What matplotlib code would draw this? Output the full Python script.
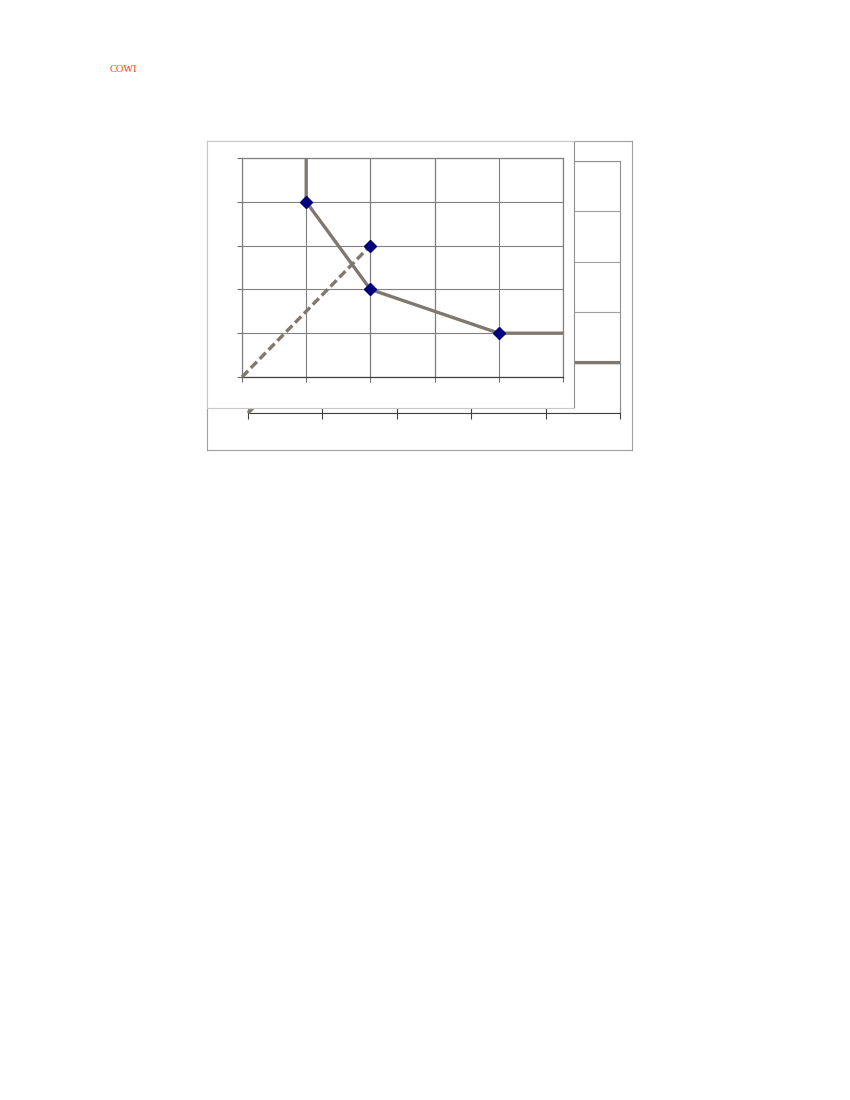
import matplotlib
matplotlib.use("Agg")
import matplotlib.pyplot as plt

# -------------------------------------------------
# Data
# -------------------------------------------------
solid_x = [1, 1, 2, 4, 5]
solid_y = [5, 4, 2, 1, 1]
dashed_x = [0, 2]
dashed_y = [0, 3]
marker_x = [1, 2, 4, 2]
marker_y = [4, 2, 1, 3]
x_ticks = [0, 1, 2, 3, 4, 5]
y_ticks = [0, 1, 2, 3, 4, 5]
dark_x_grid = [2, 3]

W, H = 850, 1100
LINE_COL = "#7f7871"
MARK_COL = "#00007f"


def box(x0, y0, x1, y1):
    # pixel box (top-left origin) -> figure fraction rect
    return [x0 / W, (H - y1) / H, (x1 - x0) / W, (y1 - y0) / H]


def draw_series(ax, lw, ms):
    ax.plot(solid_x, solid_y, color=LINE_COL, lw=lw, solid_capstyle="butt",
            clip_on=False, zorder=3)
    ax.plot(dashed_x, dashed_y, color=LINE_COL, lw=lw, ls=(0, (2.6, 1.2)),
            clip_on=False, zorder=3)
    ax.plot(marker_x, marker_y, ls="none", marker="D", ms=ms,
            color=MARK_COL, mec=MARK_COL, clip_on=False, zorder=4)


fig = plt.figure(figsize=(8.5, 11), dpi=100)

fig.text(110 / W, 1 - 72 / H, "COWI", color="#ff3d0d", fontsize=7.5,
         family="Liberation Serif")

# -------------------------------------------------
# Back chart (mostly hidden)
# -------------------------------------------------
back_frame = fig.add_axes(box(207, 141, 632, 450), zorder=0)
back_frame.set_xticks([])
back_frame.set_yticks([])
for s in back_frame.spines.values():
    s.set_color("#a0a0a0")
    s.set_linewidth(0.8)

back = fig.add_axes(box(248, 161, 620, 413), zorder=1)
back.set_facecolor("none")
back.set_xlim(0, 5)
back.set_ylim(0, 5)
back.set_xticks(x_ticks)
back.set_yticks(y_ticks)
back.set_xticklabels([])
back.set_yticklabels([])
back.tick_params(axis="x", direction="inout", length=9, color="#404040", width=0.8)
back.tick_params(axis="y", length=0)
back.grid(axis="y", color="#a0a0a0", lw=0.8)
for name, s in back.spines.items():
    s.set_color("#404040" if name == "bottom" else "#909090")
    s.set_linewidth(0.8)
draw_series(back, 2.4, 6)

# -------------------------------------------------
# Front chart
# -------------------------------------------------
front_frame = fig.add_axes(box(207, 141, 574, 408), zorder=2)
front_frame.set_xticks([])
front_frame.set_yticks([])
front_frame.set_facecolor("white")
for s in front_frame.spines.values():
    s.set_color("#c8c8c8")
    s.set_linewidth(0.8)
front_frame.spines["right"].set_color("#909090")

front = fig.add_axes(box(242, 158, 563, 377), zorder=3)
front.set_facecolor("none")
front.set_xlim(0, 5)
front.set_ylim(0, 5)
front.set_xticks(x_ticks)
front.set_yticks(y_ticks)
front.set_xticklabels([])
front.set_yticklabels([])
front.tick_params(direction="out", length=3.5, color="#707070", width=0.8)
front.grid(color="#808080", lw=0.8)
for gx in dark_x_grid:
    front.axvline(gx, color="#404040", lw=0.8, zorder=1)
for name, s in front.spines.items():
    s.set_color("#404040" if name == "bottom" else "#808080")
    s.set_linewidth(0.9)
draw_series(front, 2.4, 6)

fig.savefig("out.png", dpi=100)
